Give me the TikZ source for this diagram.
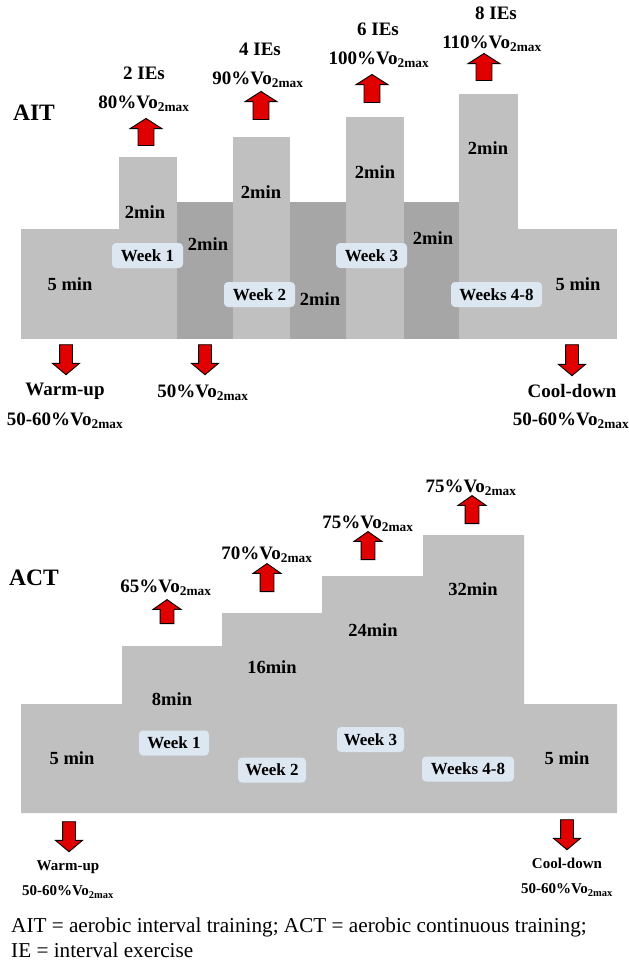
\documentclass[tikz,border=0pt]{standalone}
\usepackage{fontspec}
\setmainfont{Liberation Serif}
\usetikzlibrary{shapes.arrows}
\definecolor{lg}{HTML}{C0C0C0}
\definecolor{dg}{HTML}{A6A6A6}
\definecolor{wb}{HTML}{DDE7F2}
\definecolor{ar}{HTML}{E00000}
\newcommand{\vom}{Vo\textsubscript{2max}}
\tikzset{
  lab/.style={font=\fontsize{18.5}{20}\selectfont\bfseries, inner sep=0},
  biglab/.style={font=\fontsize{19}{21}\selectfont\bfseries, inner sep=0},
  smlab/.style={font=\fontsize{15}{17}\selectfont\bfseries, inner sep=0},
  ttl/.style={font=\fontsize{23.5}{25}\selectfont\bfseries, inner sep=0},
  wk/.style={fill=wb, rounded corners=4pt, font=\fontsize{17}{19}\selectfont\bfseries, minimum height=25pt, inner xsep=0pt, inner ysep=0pt},
  uparr/.style={single arrow, draw=black, fill=ar, line width=0.9pt, shape border rotate=90, inner sep=7.5pt, minimum width=32pt, single arrow head extend=8pt, single arrow tip angle=115},
  smuparr/.style={single arrow, draw=black, fill=ar, line width=0.9pt, shape border rotate=90, inner sep=6.5pt, minimum width=27pt, single arrow head extend=7pt, single arrow tip angle=110},
  dnarr/.style={single arrow, draw=black, fill=ar, line width=0.9pt, shape border rotate=270, inner sep=6pt, minimum width=26pt, single arrow head extend=7pt, single arrow tip angle=100},
  note/.style={font=\fontsize{21.2}{24}\selectfont, inner sep=0, anchor=west, align=left}
}
\begin{document}
\begin{tikzpicture}[x=1pt,y=-1pt]
\useasboundingbox (0,0) rectangle (629,962);
% ---------- AIT ----------
\fill[lg] (21,229) rectangle (119,339);
\fill[lg] (119,157) rectangle (177,339);
\fill[dg] (177,202) rectangle (233,339);
\fill[lg] (233,137) rectangle (290,339);
\fill[dg] (290,202) rectangle (346,339);
\fill[lg] (346,117) rectangle (404,339);
\fill[dg] (404,202) rectangle (459,339);
\fill[lg] (459,94) rectangle (518,339);
\fill[lg] (518,229) rectangle (617,339);

\node[ttl] (ait) at (34,113) {AIT};
\node[biglab] (ie2) at (144,73) {2 IEs};
\node[biglab] (p80) at (144,104) {80\%\vom};
\node[uparr, minimum height=27pt] (ua1) at (146,134.5) {};
\node[biglab] (ie4) at (260,49) {4 IEs};
\node[biglab] (p90) at (258,80) {90\%\vom};
\node[uparr, minimum height=28pt] (ua2) at (261,108) {};
\node[biglab] (ie6) at (378,29) {6 IEs};
\node[biglab] (p100) at (379,60) {100\%\vom};
\node[uparr, minimum height=28pt] (ua3) at (372,91) {};
\node[biglab] (ie8) at (496,13) {8 IEs};
\node[biglab] (p110) at (492,44) {110\%\vom};
\node[uparr, minimum height=27pt] (ua4) at (484,69.5) {};

\node[lab] (m1) at (145,212) {2min};
\node[lab] (d1) at (208,244) {2min};
\node[lab] (m2) at (261,192) {2min};
\node[lab] (d2) at (320,299) {2min};
\node[lab] (m3) at (375,172) {2min};
\node[lab] (d3) at (433,238) {2min};
\node[lab] (m4) at (488,148) {2min};
\node[lab] (wu) at (70,284) {5 min};
\node[lab] (cd) at (578,284) {5 min};

\node[wk, minimum width=71pt] (w1) at (147.5,255.5) {Week 1};
\node[wk, minimum width=71pt] (w2) at (259.5,294.5) {Week 2};
\node[wk, minimum width=71pt] (w3) at (371.5,255.5) {Week 3};
\node[wk, minimum width=91pt] (w4) at (496.5,294.5) {Weeks 4-8};

\node[dnarr, minimum height=30pt] (da1) at (66,357) {};
\node[dnarr, minimum height=30pt] (da2) at (205,357) {};
\node[dnarr, minimum height=31pt] (da3) at (572,357.5) {};
\node[biglab] (wut) at (65,391) {Warm-up};
\node[biglab] (wup) at (65,421) {50-60\%\vom};
\node[biglab] (p50) at (203,393) {50\%\vom};
\node[biglab] (cdt) at (572,391) {Cool-down};
\node[biglab] (cdp) at (571,421) {50-60\%\vom};

% ---------- ACT ----------
\fill[lg] (21,704) -- (122,704) -- (122,646) -- (222,646) -- (222,613) -- (322,613) -- (322,576) -- (423,576) -- (423,535) -- (524,535) -- (524,704) -- (617,704) -- (617,813) -- (21,813) -- cycle;

\node[ttl] (act) at (34,578) {ACT};
\node[biglab] (p65) at (166,588) {65\%\vom};
\node[smuparr, minimum height=24pt] (ub1) at (167,614) {};
\node[biglab] (p70) at (267,555) {70\%\vom};
\node[smuparr, minimum height=28pt] (ub2) at (267,580) {};
\node[biglab] (p75a) at (368,524) {75\%\vom};
\node[smuparr, minimum height=28pt] (ub3) at (368,548) {};
\node[biglab] (p75b) at (471,488) {75\%\vom};
\node[smuparr, minimum height=28pt] (ub4) at (472,512) {};

\node[lab] (s1) at (172,699) {8min};
\node[lab] (s2) at (272,667) {16min};
\node[lab] (s3) at (373,630) {24min};
\node[lab] (s4) at (473,589) {32min};
\node[lab] (awu) at (72,758) {5 min};
\node[lab] (acd) at (567,758) {5 min};

\node[wk, minimum width=70pt] (v1) at (174,743) {Week 1};
\node[wk, minimum width=68pt] (v2) at (272,770) {Week 2};
\node[wk, minimum width=67pt] (v3) at (370.5,739.5) {Week 3};
\node[wk, minimum width=92pt] (v4) at (468,769) {Weeks 4-8};

\node[dnarr, minimum height=30pt, minimum width=25pt] (db1) at (69,834) {};
\node[dnarr, minimum height=30pt, minimum width=25pt] (db2) at (567,832) {};
\node[smlab] (bwut) at (68,867) {Warm-up};
\node[smlab] (bwup) at (68,892) {50-60\%\vom};
\node[smlab] (bcdt) at (567,863) {Cool-down};
\node[smlab] (bcdp) at (567,890) {50-60\%\vom};

\node[note] (n1) at (11,927) {AIT = aerobic interval training; ACT = aerobic continuous training;};
\node[note] (n2) at (11,950) {IE = interval exercise};
\end{tikzpicture}
\end{document}
